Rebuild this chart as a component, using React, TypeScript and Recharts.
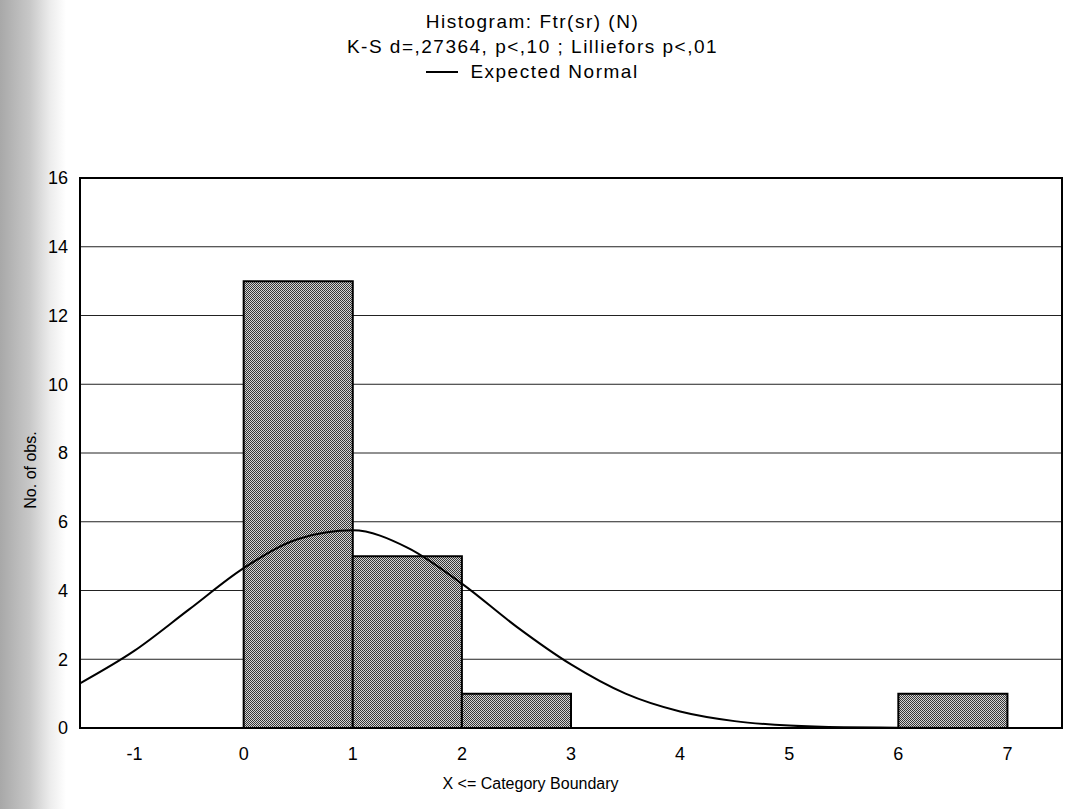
import React from "react";
import {
  ComposedChart,
  Line,
  XAxis,
  YAxis,
  CartesianGrid,
  ReferenceArea,
} from "recharts";

// Histogram bins (upper boundary X <= category boundary)
const binStarts = [0, 1, 2, 6];
const binEnds = [1, 2, 3, 7];
const binCounts = [13, 5, 1, 1];

// Expected normal curve
const curveX = [-1.5, -1, -0.5, 0, 0.5, 1, 1.5, 2, 2.5, 3, 3.5, 4, 4.5, 5, 5.5, 6, 6.5, 7, 7.5];
const curveY = [1.3, 2.25, 3.45, 4.65, 5.5, 5.75, 5.25, 4.2, 2.95, 1.85, 1.0, 0.48, 0.2, 0.07, 0.02, 0.01, 0, 0, 0];

const xTicks = [-1, 0, 1, 2, 3, 4, 5, 6, 7];
const yTicks = [0, 2, 4, 6, 8, 10, 12, 14, 16];

const titleLine1 = "Histogram: Ftr(sr) (N)";
const titleLine2 = "K-S d=,27364, p<,10 ; Lilliefors p<,01";
const legendLabel = "Expected Normal";
const xTitle = "X <= Category Boundary";
const yTitle = "No. of obs.";

const curveData = curveX.map((x, i) => ({ x, y: curveY[i] }));

const FONT = "'Liberation Sans', Arial, sans-serif";

export default function App() {
  return (
    <div
      style={{
        position: "absolute",
        left: 0,
        top: 0,
        width: 1065,
        height: 809,
        background: "#fff",
        fontFamily: FONT,
        color: "#000",
        overflow: "hidden",
      }}
    >
      <div
        style={{
          position: "absolute",
          left: 0,
          top: 0,
          width: 70,
          height: 809,
          background: "linear-gradient(to right, #a8a8a8 0px, #c8c8c8 30px, #ececec 50px, #ffffff 66px)",
        }}
      />
      <div style={{ position: "absolute", left: 0, width: 1065, top: 11, textAlign: "center", fontSize: 19, letterSpacing: 1.5 }}>
        {titleLine1}
      </div>
      <div style={{ position: "absolute", left: 0, width: 1065, top: 36, textAlign: "center", fontSize: 19, letterSpacing: 1.5 }}>
        {titleLine2}
      </div>
      <div
        style={{
          position: "absolute",
          left: 0,
          width: 1065,
          top: 61,
          display: "flex",
          justifyContent: "center",
          alignItems: "center",
          fontSize: 19,
          letterSpacing: 1.5,
        }}
      >
        <span style={{ display: "inline-block", width: 32, height: 2, background: "#000", marginRight: 12 }} />
        <span>{legendLabel}</span>
      </div>
      <div
        style={{
          position: "absolute",
          left: 32 - 60,
          top: 470 - 10,
          width: 120,
          height: 20,
          textAlign: "center",
          fontSize: 16,
          transform: "rotate(-90deg)",
        }}
      >
        {yTitle}
      </div>
      <div style={{ position: "absolute", left: 0, width: 1065, top: 775, textAlign: "center", fontSize: 16 }}>
        <span style={{ position: "relative", left: -2 }}>{xTitle}</span>
      </div>
      <div style={{ position: "absolute", left: 0, top: 0 }}>
        <ComposedChart
          width={1065}
          height={809}
          data={curveData}
          margin={{ top: 178, right: 3, bottom: 51, left: 20 }}
        >
          <defs>
            <pattern id="stipple" width="2" height="2" patternUnits="userSpaceOnUse">
              <rect x="0" y="0" width="2" height="2" fill="#d4d4d4" />
              <rect x="0" y="0" width="1" height="1" fill="#333" />
              <rect x="1" y="1" width="1" height="1" fill="#3a3a3a" />
            </pattern>
          </defs>
          <CartesianGrid horizontal vertical={false} stroke="#222" strokeWidth={1} />
          <XAxis
            dataKey="x"
            type="number"
            domain={[-1.5, 7.5]}
            ticks={xTicks}
            allowDataOverflow
            height={30}
            tickSize={0}
            tickMargin={19}
            axisLine={{ stroke: "#000", strokeWidth: 2 }}
            tick={{ fill: "#000", fontSize: 18, fontFamily: FONT }}
          />
          <YAxis
            type="number"
            domain={[0, 16]}
            ticks={yTicks}
            allowDataOverflow
            width={60}
            tickSize={0}
            tickMargin={12}
            axisLine={{ stroke: "#000", strokeWidth: 2 }}
            tick={{ fill: "#000", fontSize: 18, fontFamily: FONT }}
          />
          {binStarts.map((s, i) => (
            <ReferenceArea
              key={i}
              x1={s}
              x2={binEnds[i]}
              y1={0}
              y2={binCounts[i]}
              fill="url(#stipple)"
              fillOpacity={1}
              stroke="#000"
              strokeWidth={2}
              ifOverflow="visible"
            />
          ))}
          <ReferenceArea
            x1={-1.5}
            x2={7.5}
            y1={0}
            y2={16}
            fill="none"
            stroke="#000"
            strokeWidth={2}
            ifOverflow="visible"
          />
          <Line
            type="monotone"
            dataKey="y"
            stroke="#000"
            strokeWidth={2}
            dot={false}
            isAnimationActive={false}
          />
        </ComposedChart>
      </div>
    </div>
  );
}
